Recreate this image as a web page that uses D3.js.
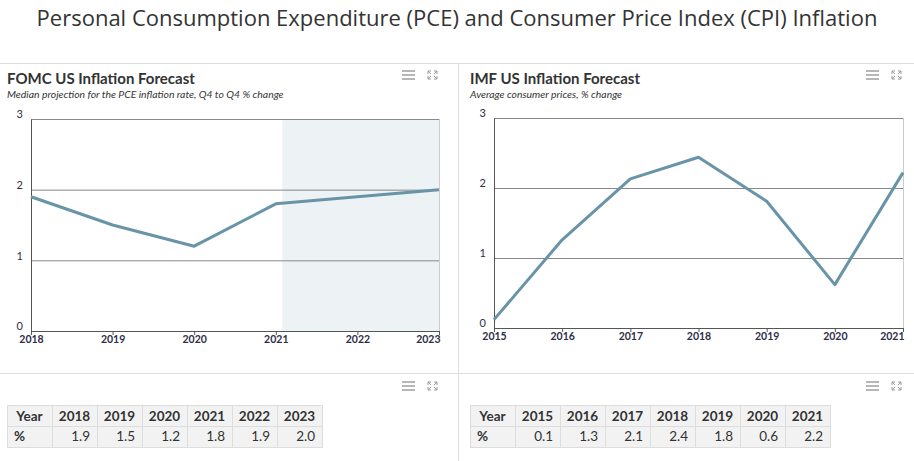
<!DOCTYPE html>
<html lang='en'>
<head>
  <meta charset='UTF-8'>
  <title>PCE and CPI Inflation</title>
  <style>
    body { margin: 0; background: #fff; }
    text { font-family: Lato, 'Open Sans', sans-serif; }
  </style>
</head>
<body>
  <script src='https://cdn.jsdelivr.net/npm/d3@7/dist/d3.min.js'></script>
  <script>
// data
const fomcYears = [2018, 2019, 2020, 2021, 2022, 2023];
const fomcValues = [1.9, 1.5, 1.2, 1.8, 1.9, 2.0];
const fomcForecastFrom = 2021.08; // shaded projection band starts here

const imfYears = [2015, 2016, 2017, 2018, 2019, 2020, 2021];
const imfValues = [0.12, 1.26, 2.13, 2.44, 1.81, 0.62, 2.22];

const yTicks = [0, 1, 2, 3];

const width = 914;
const height = 461;
const lineColor = '#6894a8';
const textColor = '#333';
const tickColor = '#2e2e48';

const svg = d3.select('body')
  .append('svg')
  .attr('width', width)
  .attr('height', height);

// main title
svg.append('text')
  .attr('x', width / 2)
  .attr('y', 26)
  .attr('text-anchor', 'middle')
  .attr('font-size', 22)
  .style('font-family', "'Open Sans', sans-serif")
  .attr('fill', textColor)
  .text('Personal Consumption Expenditure (PCE) and Consumer Price Index (CPI) Inflation');

// panel dividers
svg.append('line').attr('x1', 0).attr('x2', width).attr('y1', 63.5).attr('y2', 63.5)
  .attr('stroke', '#ddd');
svg.append('line').attr('x1', 0).attr('x2', width).attr('y1', 373.5).attr('y2', 373.5)
  .attr('stroke', '#ddd');
svg.append('line').attr('x1', 458.5).attr('x2', 458.5).attr('y1', 63).attr('y2', height)
  .attr('stroke', '#ddd');

// hamburger + fullscreen icons
function icons(x, y) {
  const g = svg.append('g').attr('transform', 'translate(' + x + ',' + y + ')')
    .attr('stroke', '#999').attr('stroke-width', 1.4).attr('fill', 'none');
  [-4, 0, 4].forEach(d => {
    g.append('line').attr('x1', 0).attr('x2', 13).attr('y1', d).attr('y2', d);
  });
  const e = g.append('g').attr('transform', 'translate(26,0)').attr('stroke-width', 1);
  // four little corner arrows
  e.append('path').attr('d', 'M0,-1 L0,-4 L3,-4 M0,-4 L3,-1');
  e.append('path').attr('d', 'M9,-1 L9,-4 L6,-4 M9,-4 L6,-1');
  e.append('path').attr('d', 'M0,1 L0,4 L3,4 M0,4 L3,1');
  e.append('path').attr('d', 'M9,1 L9,4 L6,4 M9,4 L6,1');
}
icons(402, 75);
icons(866, 75);
icons(402, 386);
icons(866, 386);

function panelTitle(x, title, subtitle) {
  svg.append('text')
    .attr('x', x).attr('y', 84)
    .attr('font-size', 15).attr('font-weight', 'bold').attr('fill', textColor)
    .text(title);
  svg.append('text')
    .attr('x', x).attr('y', 98)
    .attr('font-size', 10.4).attr('font-style', 'italic').attr('fill', textColor)
    .text(subtitle);
}

function lineChart(opt) {
  const x = d3.scaleLinear()
    .domain(d3.extent(opt.years))
    .range([opt.left, opt.right]);
  const y = d3.scaleLinear()
    .domain([0, 3])
    .range([opt.bottom, opt.top]);

  const g = svg.append('g');

  if (opt.shadeFrom) {
    g.append('rect')
      .attr('x', x(opt.shadeFrom))
      .attr('y', opt.top)
      .attr('width', x(d3.max(opt.years)) - x(opt.shadeFrom))
      .attr('height', opt.bottom - opt.top)
      .attr('fill', '#edf2f5');
  }

  // horizontal grid
  g.append('g')
    .attr('transform', 'translate(' + opt.left + ',0)')
    .call(d3.axisLeft(y).tickValues(yTicks).tickSize(-(opt.right - opt.left)).tickFormat(''))
    .call(a => a.select('.domain').remove())
    .call(a => a.selectAll('.tick line').attr('stroke', '#888'));

  // right border
  g.append('line')
    .attr('x1', opt.right + 0.5).attr('x2', opt.right + 0.5)
    .attr('y1', opt.top).attr('y2', opt.bottom)
    .attr('stroke', '#ccc');

  // y axis
  g.append('g')
    .attr('transform', 'translate(' + opt.left + ',0)')
    .call(d3.axisLeft(y).tickValues(yTicks).tickFormat(d3.format('d')).tickSize(0).tickPadding(8))
    .call(a => a.select('.domain').attr('stroke', '#555'))
    .call(a => a.selectAll('text').attr('font-size', 11).attr('fill', tickColor)
      .attr('dy', '-0.1em'));

  // x axis
  const xa = g.append('g')
    .attr('transform', 'translate(0,' + opt.bottom + ')')
    .call(d3.axisBottom(x).tickValues(opt.years).tickFormat(d3.format('d')).tickSize(4).tickPadding(1))
    .call(a => a.select('.domain').attr('stroke', '#555'))
    .call(a => a.selectAll('.tick line').attr('stroke', '#555'))
    .call(a => a.selectAll('text').attr('font-size', 10.5).attr('font-weight', 'bold')
      .attr('fill', tickColor));
  xa.selectAll('.tick text')
    .filter(d => d === d3.max(opt.years))
    .attr('text-anchor', 'end')
    .attr('x', 1);

  const line = d3.line()
    .x((d, i) => x(opt.years[i]))
    .y(d => y(d));

  g.append('path')
    .datum(opt.values)
    .attr('fill', 'none')
    .attr('stroke', lineColor)
    .attr('stroke-width', 3)
    .attr('stroke-linejoin', 'round')
    .attr('d', line);
}

function dataTable(x0, y0, years, values) {
  const cols = ['Year'].concat(years);
  const colX = d3.scaleBand()
    .domain(d3.range(cols.length))
    .range([x0, x0 + 45 * cols.length]);
  const rowH = 21;
  const g = svg.append('g');

  [0, 1].forEach(r => {
    cols.forEach((c, i) => {
      g.append('rect')
        .attr('x', colX(i) + 0.5)
        .attr('y', y0 + r * rowH + 0.5)
        .attr('width', colX.bandwidth())
        .attr('height', rowH)
        .attr('fill', '#f2f2f2')
        .attr('stroke', '#ddd');
    });
  });

  // header row
  cols.forEach((c, i) => {
    g.append('text')
      .attr('x', colX(i) + colX.bandwidth() / 2)
      .attr('y', y0 + 15.5)
      .attr('text-anchor', 'middle')
      .attr('font-size', 13.5).attr('font-weight', 'bold').attr('fill', textColor)
      .text(c);
  });

  // value row
  g.append('text')
    .attr('x', colX(0) + 7)
    .attr('y', y0 + rowH + 15)
    .attr('font-size', 13.5).attr('font-weight', 'bold').attr('fill', textColor)
    .text('%');
  values.forEach((v, i) => {
    g.append('text')
      .attr('x', colX(i + 1) + colX.bandwidth() - 7)
      .attr('y', y0 + rowH + 15)
      .attr('text-anchor', 'end')
      .attr('font-size', 13.5).attr('fill', textColor)
      .text(v.toFixed(1));
  });
}

// left panel: FOMC
panelTitle(7, 'FOMC US Inflation Forecast', 'Median projection for the PCE inflation rate, Q4 to Q4 % change');
lineChart({
  years: fomcYears, values: fomcValues, shadeFrom: fomcForecastFrom,
  left: 31, right: 439, top: 119, bottom: 331
});
dataTable(7, 405, fomcYears, fomcValues);

// right panel: IMF
panelTitle(470, 'IMF US Inflation Forecast', 'Average consumer prices, % change');
lineChart({
  years: imfYears, values: imfValues,
  left: 494, right: 903, top: 118, bottom: 328
});
dataTable(470, 405, imfYears, imfValues);
  </script>
</body>
</html>
